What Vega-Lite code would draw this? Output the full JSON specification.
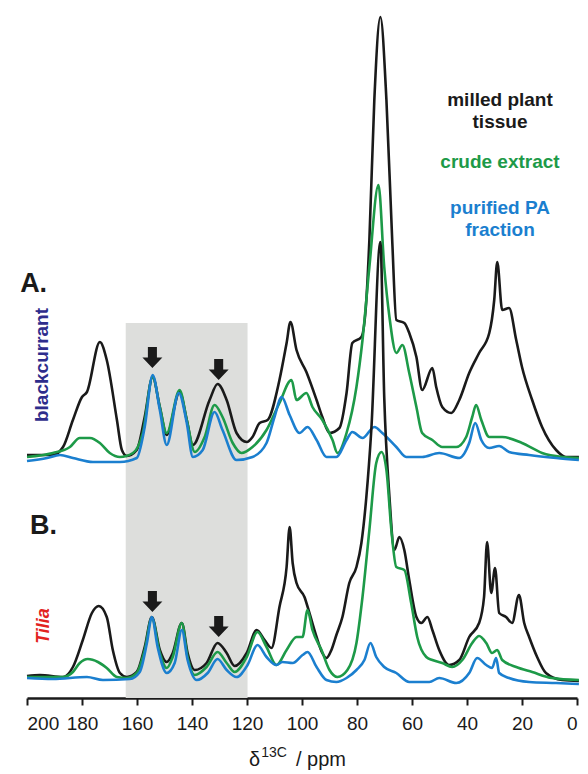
{
  "$schema": "https://vega.github.io/schema/vega-lite/v6.json",
  "width": 550,
  "height": 688,
  "autosize": {"type": "none"},
  "padding": {"left": 27, "top": 10, "right": 11, "bottom": 76},
  "config": {
    "view": {"stroke": null},
    "font": "Liberation Sans",
    "axisX": {
      "values": [0, 20, 40, 60, 80, 100, 120, 140, 160, 180, 200],
      "grid": false,
      "title": null,
      "labelFont": "Liberation Sans",
      "labelFontSize": 19,
      "labelColor": "#1a1a1a",
      "labelPadding": 9,
      "tickSize": 7,
      "tickWidth": 2,
      "tickColor": "#1a1a1a",
      "domainColor": "#1a1a1a",
      "domainWidth": 2.5
    }
  },
  "datasets": {
    "spectra": [
      {"s":"A1","ppm":200,"v":243},{"s":"A1","ppm":190.6,"v":243},{"s":"A1","ppm":186.9,"v":251},{"s":"A1","ppm":183.3,"v":278},{"s":"A1","ppm":180.0,"v":301},{"s":"A1","ppm":178.2,"v":306},{"s":"A1","ppm":173.5,"v":356},{"s":"A1","ppm":171.0,"v":338},{"s":"A1","ppm":167.3,"v":278},{"s":"A1","ppm":165.5,"v":248},{"s":"A1","ppm":163.7,"v":242},{"s":"A1","ppm":160.1,"v":248},{"s":"A1","ppm":157.2,"v":281},{"s":"A1","ppm":154.3,"v":321},{"s":"A1","ppm":151.7,"v":291},{"s":"A1","ppm":149.2,"v":263},{"s":"A1","ppm":144.5,"v":306},{"s":"A1","ppm":141.9,"v":278},{"s":"A1","ppm":139.7,"v":253},{"s":"A1","ppm":133.6,"v":298},{"s":"A1","ppm":130.7,"v":314},{"s":"A1","ppm":127.4,"v":298},{"s":"A1","ppm":123.8,"v":265},{"s":"A1","ppm":120.1,"v":256},{"s":"A1","ppm":118.0,"v":261},{"s":"A1","ppm":115.4,"v":275},{"s":"A1","ppm":112.5,"v":278},{"s":"A1","ppm":108.2,"v":318},{"s":"A1","ppm":105.6,"v":355},{"s":"A1","ppm":104.2,"v":376},{"s":"A1","ppm":102.0,"v":348},{"s":"A1","ppm":98.4,"v":326},{"s":"A1","ppm":94.7,"v":298},{"s":"A1","ppm":92.6,"v":281},{"s":"A1","ppm":90.0,"v":265},{"s":"A1","ppm":86.4,"v":270},{"s":"A1","ppm":83.8,"v":305},{"s":"A1","ppm":81.7,"v":355},{"s":"A1","ppm":78.4,"v":361},{"s":"A1","ppm":76.6,"v":398},{"s":"A1","ppm":75.5,"v":458},{"s":"A1","ppm":73.7,"v":598},{"s":"A1","ppm":71.5,"v":681},{"s":"A1","ppm":69.3,"v":598},{"s":"A1","ppm":67.2,"v":458},{"s":"A1","ppm":65.7,"v":378},{"s":"A1","ppm":62.8,"v":375},{"s":"A1","ppm":61.0,"v":365},{"s":"A1","ppm":58.4,"v":341},{"s":"A1","ppm":56.3,"v":308},{"s":"A1","ppm":52.6,"v":330},{"s":"A1","ppm":51.2,"v":311},{"s":"A1","ppm":49.0,"v":291},{"s":"A1","ppm":45.7,"v":285},{"s":"A1","ppm":42.8,"v":298},{"s":"A1","ppm":39.2,"v":325},{"s":"A1","ppm":35.6,"v":345},{"s":"A1","ppm":31.9,"v":365},{"s":"A1","ppm":30.1,"v":398},{"s":"A1","ppm":29.0,"v":436},{"s":"A1","ppm":27.2,"v":388},{"s":"A1","ppm":24.7,"v":390},{"s":"A1","ppm":22.1,"v":358},{"s":"A1","ppm":20.0,"v":331},{"s":"A1","ppm":16.3,"v":298},{"s":"A1","ppm":12.7,"v":271},{"s":"A1","ppm":7.6,"v":248},{"s":"A1","ppm":4.0,"v":241},{"s":"A1","ppm":-0.7,"v":241},

      {"s":"A2","ppm":200,"v":241},{"s":"A2","ppm":190.6,"v":245},{"s":"A2","ppm":184.4,"v":251},{"s":"A2","ppm":180.8,"v":260},{"s":"A2","ppm":177.1,"v":260},{"s":"A2","ppm":173.5,"v":255},{"s":"A2","ppm":169.9,"v":245},{"s":"A2","ppm":166.2,"v":241},{"s":"A2","ppm":161.5,"v":245},{"s":"A2","ppm":157.9,"v":265},{"s":"A2","ppm":154.3,"v":321},{"s":"A2","ppm":151.7,"v":291},{"s":"A2","ppm":149.2,"v":265},{"s":"A2","ppm":144.5,"v":308},{"s":"A2","ppm":141.9,"v":278},{"s":"A2","ppm":139.0,"v":246},{"s":"A2","ppm":135.4,"v":261},{"s":"A2","ppm":131.8,"v":293},{"s":"A2","ppm":128.9,"v":281},{"s":"A2","ppm":125.2,"v":255},{"s":"A2","ppm":122.0,"v":245},{"s":"A2","ppm":118.0,"v":251},{"s":"A2","ppm":112.9,"v":268},{"s":"A2","ppm":108.2,"v":295},{"s":"A2","ppm":103.8,"v":318},{"s":"A2","ppm":102.0,"v":298},{"s":"A2","ppm":98.4,"v":305},{"s":"A2","ppm":96.2,"v":291},{"s":"A2","ppm":92.6,"v":278},{"s":"A2","ppm":88.9,"v":258},{"s":"A2","ppm":87.1,"v":245},{"s":"A2","ppm":83.8,"v":265},{"s":"A2","ppm":80.2,"v":311},{"s":"A2","ppm":78.0,"v":358},{"s":"A2","ppm":75.5,"v":431},{"s":"A2","ppm":72.2,"v":513},{"s":"A2","ppm":70.1,"v":431},{"s":"A2","ppm":68.2,"v":381},{"s":"A2","ppm":65.7,"v":345},{"s":"A2","ppm":63.5,"v":353},{"s":"A2","ppm":61.0,"v":325},{"s":"A2","ppm":58.4,"v":291},{"s":"A2","ppm":56.3,"v":265},{"s":"A2","ppm":52.6,"v":258},{"s":"A2","ppm":49.0,"v":251},{"s":"A2","ppm":43.9,"v":251},{"s":"A2","ppm":40.3,"v":261},{"s":"A2","ppm":38.1,"v":281},{"s":"A2","ppm":36.7,"v":293},{"s":"A2","ppm":34.8,"v":278},{"s":"A2","ppm":31.9,"v":261},{"s":"A2","ppm":27.2,"v":261},{"s":"A2","ppm":20.0,"v":255},{"s":"A2","ppm":12.7,"v":245},{"s":"A2","ppm":5.4,"v":241},{"s":"A2","ppm":-0.7,"v":240},

      {"s":"A3","ppm":200,"v":237},{"s":"A3","ppm":192.7,"v":240},{"s":"A3","ppm":188.0,"v":243},{"s":"A3","ppm":183.3,"v":240},{"s":"A3","ppm":176.0,"v":236},{"s":"A3","ppm":166.2,"v":236},{"s":"A3","ppm":160.1,"v":240},{"s":"A3","ppm":157.2,"v":271},{"s":"A3","ppm":154.3,"v":323},{"s":"A3","ppm":151.7,"v":288},{"s":"A3","ppm":149.2,"v":253},{"s":"A3","ppm":144.8,"v":305},{"s":"A3","ppm":141.9,"v":275},{"s":"A3","ppm":139.7,"v":241},{"s":"A3","ppm":136.1,"v":248},{"s":"A3","ppm":131.8,"v":286},{"s":"A3","ppm":128.9,"v":268},{"s":"A3","ppm":123.8,"v":238},{"s":"A3","ppm":118.0,"v":241},{"s":"A3","ppm":112.9,"v":255},{"s":"A3","ppm":110.0,"v":281},{"s":"A3","ppm":107.4,"v":301},{"s":"A3","ppm":104.5,"v":283},{"s":"A3","ppm":100.9,"v":265},{"s":"A3","ppm":98.0,"v":271},{"s":"A3","ppm":94.7,"v":258},{"s":"A3","ppm":91.1,"v":241},{"s":"A3","ppm":87.5,"v":241},{"s":"A3","ppm":83.8,"v":258},{"s":"A3","ppm":81.7,"v":266},{"s":"A3","ppm":78.0,"v":260},{"s":"A3","ppm":73.7,"v":271},{"s":"A3","ppm":70.8,"v":265},{"s":"A3","ppm":65.7,"v":251},{"s":"A3","ppm":62.1,"v":241},{"s":"A3","ppm":56.3,"v":241},{"s":"A3","ppm":50.1,"v":245},{"s":"A3","ppm":42.8,"v":240},{"s":"A3","ppm":39.2,"v":255},{"s":"A3","ppm":37.0,"v":275},{"s":"A3","ppm":34.8,"v":258},{"s":"A3","ppm":31.9,"v":250},{"s":"A3","ppm":28.3,"v":252},{"s":"A3","ppm":24.7,"v":246},{"s":"A3","ppm":17.4,"v":243},{"s":"A3","ppm":7.6,"v":240},{"s":"A3","ppm":-0.7,"v":238},

      {"s":"B1","ppm":200,"v":22},{"s":"B1","ppm":195.3,"v":23},{"s":"B1","ppm":186.9,"v":21},{"s":"B1","ppm":183.3,"v":31},{"s":"B1","ppm":179.7,"v":58},{"s":"B1","ppm":176.4,"v":85},{"s":"B1","ppm":173.9,"v":92},{"s":"B1","ppm":171.0,"v":81},{"s":"B1","ppm":168.8,"v":48},{"s":"B1","ppm":166.2,"v":25},{"s":"B1","ppm":163.7,"v":21},{"s":"B1","ppm":160.1,"v":26},{"s":"B1","ppm":157.2,"v":51},{"s":"B1","ppm":154.6,"v":81},{"s":"B1","ppm":151.7,"v":48},{"s":"B1","ppm":149.2,"v":36},{"s":"B1","ppm":147.0,"v":45},{"s":"B1","ppm":143.7,"v":75},{"s":"B1","ppm":141.6,"v":45},{"s":"B1","ppm":139.0,"v":28},{"s":"B1","ppm":134.7,"v":35},{"s":"B1","ppm":130.7,"v":55},{"s":"B1","ppm":127.4,"v":45},{"s":"B1","ppm":124.5,"v":32},{"s":"B1","ppm":120.1,"v":45},{"s":"B1","ppm":116.5,"v":68},{"s":"B1","ppm":113.6,"v":58},{"s":"B1","ppm":111.1,"v":50},{"s":"B1","ppm":108.2,"v":91},{"s":"B1","ppm":105.6,"v":131},{"s":"B1","ppm":104.5,"v":171},{"s":"B1","ppm":103.4,"v":135},{"s":"B1","ppm":102.0,"v":115},{"s":"B1","ppm":99.1,"v":101},{"s":"B1","ppm":97.3,"v":85},{"s":"B1","ppm":94.7,"v":61},{"s":"B1","ppm":92.6,"v":45},{"s":"B1","ppm":91.1,"v":40},{"s":"B1","ppm":89.3,"v":48},{"s":"B1","ppm":87.5,"v":63},{"s":"B1","ppm":85.3,"v":81},{"s":"B1","ppm":82.8,"v":115},{"s":"B1","ppm":80.2,"v":131},{"s":"B1","ppm":78.4,"v":155},{"s":"B1","ppm":76.6,"v":201},{"s":"B1","ppm":74.8,"v":268},{"s":"B1","ppm":71.5,"v":456},{"s":"B1","ppm":70.1,"v":301},{"s":"B1","ppm":68.2,"v":201},{"s":"B1","ppm":66.4,"v":148},{"s":"B1","ppm":64.6,"v":161},{"s":"B1","ppm":62.8,"v":148},{"s":"B1","ppm":61.0,"v":118},{"s":"B1","ppm":58.4,"v":81},{"s":"B1","ppm":56.6,"v":75},{"s":"B1","ppm":54.4,"v":81},{"s":"B1","ppm":52.6,"v":68},{"s":"B1","ppm":50.1,"v":48},{"s":"B1","ppm":46.5,"v":33},{"s":"B1","ppm":42.8,"v":38},{"s":"B1","ppm":39.2,"v":61},{"s":"B1","ppm":35.6,"v":75},{"s":"B1","ppm":33.8,"v":101},{"s":"B1","ppm":32.7,"v":156},{"s":"B1","ppm":31.2,"v":105},{"s":"B1","ppm":29.8,"v":130},{"s":"B1","ppm":28.3,"v":85},{"s":"B1","ppm":25.8,"v":81},{"s":"B1","ppm":23.6,"v":75},{"s":"B1","ppm":21.1,"v":103},{"s":"B1","ppm":19.2,"v":75},{"s":"B1","ppm":17.4,"v":61},{"s":"B1","ppm":14.5,"v":41},{"s":"B1","ppm":11.3,"v":25},{"s":"B1","ppm":5.4,"v":18},{"s":"B1","ppm":-0.7,"v":17},

      {"s":"B2","ppm":200,"v":21},{"s":"B2","ppm":186.9,"v":21},{"s":"B2","ppm":183.3,"v":26},{"s":"B2","ppm":180.8,"v":35},{"s":"B2","ppm":177.9,"v":39},{"s":"B2","ppm":174.2,"v":36},{"s":"B2","ppm":171.0,"v":30},{"s":"B2","ppm":167.3,"v":21},{"s":"B2","ppm":163.7,"v":20},{"s":"B2","ppm":160.1,"v":25},{"s":"B2","ppm":157.2,"v":48},{"s":"B2","ppm":154.6,"v":80},{"s":"B2","ppm":151.7,"v":45},{"s":"B2","ppm":149.2,"v":30},{"s":"B2","ppm":147.0,"v":41},{"s":"B2","ppm":143.7,"v":75},{"s":"B2","ppm":141.6,"v":41},{"s":"B2","ppm":139.0,"v":23},{"s":"B2","ppm":134.7,"v":31},{"s":"B2","ppm":130.7,"v":46},{"s":"B2","ppm":127.4,"v":35},{"s":"B2","ppm":124.5,"v":26},{"s":"B2","ppm":120.1,"v":41},{"s":"B2","ppm":116.2,"v":66},{"s":"B2","ppm":112.9,"v":51},{"s":"B2","ppm":109.3,"v":33},{"s":"B2","ppm":105.6,"v":48},{"s":"B2","ppm":102.0,"v":61},{"s":"B2","ppm":99.8,"v":61},{"s":"B2","ppm":98.0,"v":88},{"s":"B2","ppm":96.2,"v":68},{"s":"B2","ppm":92.9,"v":48},{"s":"B2","ppm":90.0,"v":28},{"s":"B2","ppm":87.1,"v":21},{"s":"B2","ppm":83.5,"v":28},{"s":"B2","ppm":80.2,"v":55},{"s":"B2","ppm":78.0,"v":101},{"s":"B2","ppm":75.5,"v":168},{"s":"B2","ppm":73.0,"v":235},{"s":"B2","ppm":71.1,"v":246},{"s":"B2","ppm":69.3,"v":228},{"s":"B2","ppm":67.5,"v":168},{"s":"B2","ppm":65.7,"v":131},{"s":"B2","ppm":62.8,"v":128},{"s":"B2","ppm":60.3,"v":95},{"s":"B2","ppm":58.1,"v":61},{"s":"B2","ppm":54.8,"v":41},{"s":"B2","ppm":52.6,"v":38},{"s":"B2","ppm":49.0,"v":35},{"s":"B2","ppm":45.4,"v":31},{"s":"B2","ppm":41.7,"v":38},{"s":"B2","ppm":38.1,"v":55},{"s":"B2","ppm":35.6,"v":62},{"s":"B2","ppm":33.0,"v":55},{"s":"B2","ppm":30.9,"v":45},{"s":"B2","ppm":29.0,"v":48},{"s":"B2","ppm":27.2,"v":38},{"s":"B2","ppm":22.1,"v":31},{"s":"B2","ppm":16.3,"v":26},{"s":"B2","ppm":9.1,"v":20},{"s":"B2","ppm":-0.7,"v":18},

      {"s":"B3","ppm":200,"v":20},{"s":"B3","ppm":190.6,"v":19},{"s":"B3","ppm":178.2,"v":21},{"s":"B3","ppm":172.4,"v":18},{"s":"B3","ppm":162.6,"v":19},{"s":"B3","ppm":159.0,"v":26},{"s":"B3","ppm":156.4,"v":55},{"s":"B3","ppm":154.6,"v":81},{"s":"B3","ppm":152.5,"v":51},{"s":"B3","ppm":149.2,"v":25},{"s":"B3","ppm":146.3,"v":35},{"s":"B3","ppm":143.7,"v":68},{"s":"B3","ppm":141.6,"v":38},{"s":"B3","ppm":138.3,"v":18},{"s":"B3","ppm":134.3,"v":25},{"s":"B3","ppm":130.7,"v":39},{"s":"B3","ppm":127.4,"v":28},{"s":"B3","ppm":123.8,"v":21},{"s":"B3","ppm":119.8,"v":33},{"s":"B3","ppm":116.2,"v":53},{"s":"B3","ppm":112.9,"v":41},{"s":"B3","ppm":109.3,"v":33},{"s":"B3","ppm":107.1,"v":36},{"s":"B3","ppm":103.4,"v":35},{"s":"B3","ppm":99.8,"v":43},{"s":"B3","ppm":98.0,"v":46},{"s":"B3","ppm":94.7,"v":31},{"s":"B3","ppm":91.1,"v":18},{"s":"B3","ppm":87.5,"v":16},{"s":"B3","ppm":83.8,"v":20},{"s":"B3","ppm":80.2,"v":28},{"s":"B3","ppm":77.3,"v":38},{"s":"B3","ppm":75.1,"v":55},{"s":"B3","ppm":73.0,"v":41},{"s":"B3","ppm":70.1,"v":31},{"s":"B3","ppm":65.7,"v":25},{"s":"B3","ppm":61.0,"v":16},{"s":"B3","ppm":53.7,"v":16},{"s":"B3","ppm":50.1,"v":20},{"s":"B3","ppm":43.9,"v":15},{"s":"B3","ppm":39.2,"v":25},{"s":"B3","ppm":36.3,"v":40},{"s":"B3","ppm":33.0,"v":33},{"s":"B3","ppm":30.9,"v":30},{"s":"B3","ppm":29.4,"v":40},{"s":"B3","ppm":28.3,"v":25},{"s":"B3","ppm":24.7,"v":20},{"s":"B3","ppm":17.4,"v":16},{"s":"B3","ppm":7.6,"v":15},{"s":"B3","ppm":-0.7,"v":14}
    ],
    "shade": [{"ppm": 164.1, "ppm2": 119.8, "v": 375}],
    "arrows": [
      {"ppm": 154.4, "v": 340.5},
      {"ppm": 130.3, "v": 328.5},
      {"ppm": 154.4, "v": 96.5},
      {"ppm": 130.3, "v": 71.5}
    ],
    "panels": [
      {"label": "A.", "ppm": 202.5, "v": 406},
      {"label": "B.", "ppm": 198.9, "v": 164}
    ],
    "legend": [
      {"label": "milled plant", "kind": "milled", "ppm": 28.0, "v": 592},
      {"label": "tissue", "kind": "milled", "ppm": 28.0, "v": 570},
      {"label": "crude extract", "kind": "crude", "ppm": 28.0, "v": 530.5},
      {"label": "purified PA", "kind": "purified", "ppm": 28.0, "v": 484},
      {"label": "fraction", "kind": "purified", "ppm": 28.0, "v": 462}
    ]
  },
  "encoding": {
    "x": {"field": "ppm", "type": "quantitative", "scale": {"domain": [200, 0], "nice": false, "zero": false}},
    "y": {"field": "v", "type": "quantitative", "scale": {"domain": [0, 688], "nice": false, "zero": false}, "axis": null}
  },
  "layer": [
    {
      "data": {"name": "shade"},
      "mark": {"type": "rect", "color": "#dddedc"},
      "encoding": {"x2": {"field": "ppm2"}, "y2": {"datum": 0}}
    },
    {
      "data": {"name": "spectra"},
      "transform": [{"filter": "datum.s === 'A1'"}],
      "mark": {"type": "line", "color": "#1a1a1a", "strokeWidth": 2.6, "strokeJoin": "round", "interpolate": "monotone"}
    },
    {
      "data": {"name": "spectra"},
      "transform": [{"filter": "datum.s === 'A2'"}],
      "mark": {"type": "line", "color": "#1d9a48", "strokeWidth": 2.6, "strokeJoin": "round", "interpolate": "monotone"}
    },
    {
      "data": {"name": "spectra"},
      "transform": [{"filter": "datum.s === 'A3'"}],
      "mark": {"type": "line", "color": "#1b7fcf", "strokeWidth": 2.6, "strokeJoin": "round", "interpolate": "monotone"}
    },
    {
      "data": {"name": "spectra"},
      "transform": [{"filter": "datum.s === 'B1'"}],
      "mark": {"type": "line", "color": "#1a1a1a", "strokeWidth": 2.6, "strokeJoin": "round", "interpolate": "monotone"}
    },
    {
      "data": {"name": "spectra"},
      "transform": [{"filter": "datum.s === 'B2'"}],
      "mark": {"type": "line", "color": "#1d9a48", "strokeWidth": 2.6, "strokeJoin": "round", "interpolate": "monotone"}
    },
    {
      "data": {"name": "spectra"},
      "transform": [{"filter": "datum.s === 'B3'"}],
      "mark": {"type": "line", "color": "#1b7fcf", "strokeWidth": 2.6, "strokeJoin": "round", "interpolate": "monotone"}
    },
    {
      "data": {"name": "arrows"},
      "mark": {"type": "point", "shape": "M-0.43,-1 L0.43,-1 L0.43,0 L0.95,0 L0,1 L-0.95,0 L-0.43,0 Z", "filled": true, "color": "#1a1a1a", "size": 441, "opacity": 1, "strokeWidth": 0}
    },
    {
      "data": {"name": "panels"},
      "mark": {"type": "text", "align": "left", "baseline": "alphabetic", "fontSize": 27, "fontWeight": "bold", "color": "#1a1a1a"},
      "encoding": {"text": {"field": "label"}}
    },
    {
      "data": {"values": [{"label": "blackcurrant", "ppm": 194.7, "v": 333}]},
      "mark": {"type": "text", "align": "center", "baseline": "middle", "angle": 270, "fontSize": 19, "fontWeight": "bold", "color": "#2e2d8c"},
      "encoding": {"text": {"field": "label"}}
    },
    {
      "data": {"values": [{"label": "Tilia", "ppm": 194.0, "v": 72}]},
      "mark": {"type": "text", "align": "center", "baseline": "middle", "angle": 270, "fontSize": 18, "fontWeight": "bold", "fontStyle": "italic", "color": "#e2231f"},
      "encoding": {"text": {"field": "label"}}
    },
    {
      "data": {"name": "legend"},
      "transform": [{"filter": "datum.kind === 'milled'"}],
      "mark": {"type": "text", "align": "center", "baseline": "alphabetic", "fontSize": 19, "fontWeight": "bold", "color": "#1a1a1a"},
      "encoding": {"text": {"field": "label"}}
    },
    {
      "data": {"name": "legend"},
      "transform": [{"filter": "datum.kind === 'crude'"}],
      "mark": {"type": "text", "align": "center", "baseline": "alphabetic", "fontSize": 19, "fontWeight": "bold", "color": "#1d9a48"},
      "encoding": {"text": {"field": "label"}}
    },
    {
      "data": {"name": "legend"},
      "transform": [{"filter": "datum.kind === 'purified'"}],
      "mark": {"type": "text", "align": "center", "baseline": "alphabetic", "fontSize": 19, "fontWeight": "bold", "color": "#1b7fcf"},
      "encoding": {"text": {"field": "label"}}
    },
    {
      "data": {"values": [
        {"label": "δ", "ppm": 119.3, "v": -68},
        {"label": "/ ppm", "ppm": 102.2, "v": -68}
      ]},
      "mark": {"type": "text", "align": "left", "baseline": "alphabetic", "fontSize": 20, "color": "#1a1a1a"},
      "encoding": {"text": {"field": "label"}}
    },
    {
      "data": {"values": [{"label": "13C", "ppm": 114.8, "v": -59}]},
      "mark": {"type": "text", "align": "left", "baseline": "alphabetic", "fontSize": 14, "color": "#1a1a1a"},
      "encoding": {"text": {"field": "label"}}
    }
  ]
}
